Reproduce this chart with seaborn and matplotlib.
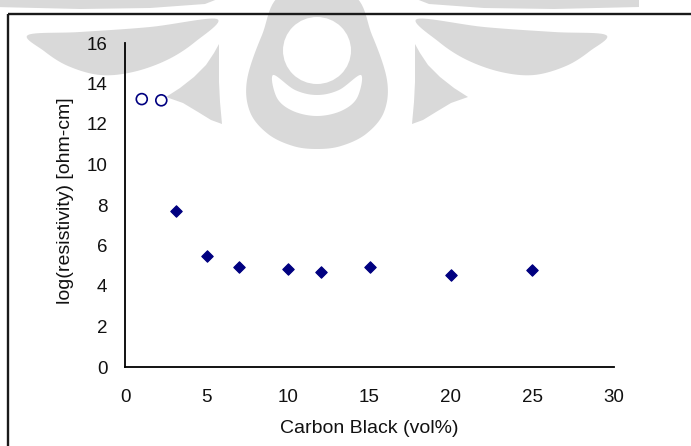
import matplotlib
matplotlib.use("Agg")
import matplotlib.pyplot as plt
from matplotlib.patches import Ellipse, Polygon, Rectangle
import numpy as np
import pandas as pd
import seaborn as sns

# Measured data: carbon black loading vs. log resistivity
cb_open = [1.0, 2.2]            # vol% (open symbols)
rho_open = [13.23, 13.17]       # log(ohm-cm)
cb_filled = [3.1, 5.0, 7.0, 10.0, 12.0, 15.0, 20.0, 25.0]
rho_filled = [7.72, 5.50, 4.95, 4.82, 4.71, 4.95, 4.54, 4.79]

x_ticks = [0, 5, 10, 15, 20, 25, 30]
y_ticks = [0, 2, 4, 6, 8, 10, 12, 14, 16]

df_open = pd.DataFrame({"cb": cb_open, "rho": rho_open})
df_filled = pd.DataFrame({"cb": cb_filled, "rho": rho_filled})

sns.set_style("white")
plt.rcParams["font.family"] = ["Liberation Sans", "DejaVu Sans"]

W, H = 691, 446
fig = plt.figure(figsize=(W / 100, H / 100), dpi=100)
fig.patch.set_facecolor("white")

# Background layer in pixel coordinates (origin at top-left)
bg = fig.add_axes([0, 0, 1, 1], zorder=0)
bg.set_xlim(0, W)
bg.set_ylim(H, 0)
bg.axis("off")

wm = "#d9d9d9"
cx = 317.0  # symmetry axis of the emblem


def mirror(pts):
    return [(2 * cx - x, y) for x, y in pts]


def smooth(pts, closed=True, n=12):
    """Catmull-Rom smoothing of a control polygon."""
    p = np.array(pts, dtype=float)
    if closed:
        p = np.vstack([p[-1], p, p[0], p[1]])
    else:
        p = np.vstack([p[0], p, p[-1]])
    out = []
    for i in range(1, len(p) - 2):
        p0, p1, p2, p3 = p[i - 1], p[i], p[i + 1], p[i + 2]
        for t in np.linspace(0, 1, n, endpoint=False):
            t2, t3 = t * t, t * t * t
            out.append(0.5 * ((2 * p1) + (-p0 + p2) * t +
                              (2 * p0 - 5 * p1 + 4 * p2 - p3) * t2 +
                              (-p0 + 3 * p1 - 3 * p2 + p3) * t3))
    return np.array(out)


# central drop
drop = [(283, -6), (262, 35), (247, 80), (250, 112), (268, 134), (293, 146),
        (317, 149), (341, 146), (366, 134), (384, 112), (387, 80), (372, 35),
        (351, -6)]
bg.add_patch(Polygon(smooth(drop), closed=True, fc=wm, ec="none", zorder=1))
bg.add_patch(Ellipse((cx, 50.5), 68, 67, fc="white", ec="none", zorder=2))
crescent = [(273, 75), (295, 90), (317, 95), (339, 90), (361, 75),
            (357, 98), (341, 111), (317, 116), (293, 111), (277, 98)]
bg.add_patch(Polygon(smooth(crescent), closed=True, fc="white", ec="none", zorder=2))

# side wings and leaves
wing = [(28, 35), (80, 32), (150, 27), (217, 19), (195, 42), (167, 60),
        (133, 72), (100, 75), (68, 66), (44, 51)]
leaf = [(166, 97), (180, 88), (194, 77), (206, 65), (214, 53), (219, 44),
        (219, 62), (219, 82), (220, 102), (222, 124), (211, 120), (198, 112),
        (183, 103)]
strip = [(-5, -5), (228, -5), (205, 4), (150, 8), (80, 9), (-5, 7)]
bg.add_patch(Polygon(smooth(wing), closed=True, fc=wm, ec="none", zorder=1))
bg.add_patch(Polygon(smooth(mirror(wing)), closed=True, fc=wm, ec="none", zorder=1))
bg.add_patch(Polygon(leaf, closed=True, fc=wm, ec="none", zorder=1))
bg.add_patch(Polygon(mirror(leaf), closed=True, fc=wm, ec="none", zorder=1))
bg.add_patch(Polygon(strip, closed=True, fc=wm, ec="none", zorder=1))
bg.add_patch(Polygon(mirror(strip), closed=True, fc=wm, ec="none", zorder=1))

# outer frame
bg.add_patch(Rectangle((8.5, 14), 800, 600, fill=False, ec="#1a1a1a", lw=1.7, zorder=3))

# Main plot
x0, x1 = 125.5, 613.5
y0, y1 = 367.0, 43.0
ax = fig.add_axes([x0 / W, (H - y0) / H, (x1 - x0) / W, (y0 - y1) / H], zorder=1)
ax.set_facecolor("none")

navy = "#000080"
sns.scatterplot(data=df_open, x="cb", y="rho", ax=ax, marker="o", s=62,
                facecolor="none", edgecolor=navy, linewidth=1.2, zorder=5,
                clip_on=False)
sns.scatterplot(data=df_filled, x="cb", y="rho", ax=ax, marker="D", s=34,
                color=navy, edgecolor=navy, linewidth=0.8, zorder=5,
                clip_on=False)

ax.set_xlim(0, 30)
ax.set_ylim(0, 16)
ax.set_xticks(x_ticks)
ax.set_yticks(y_ticks)
ax.set_xticklabels([str(v) for v in x_ticks])
ax.set_yticklabels([str(v) for v in y_ticks])

for side in ("top", "right"):
    ax.spines[side].set_visible(False)
for side in ("left", "bottom"):
    ax.spines[side].set_color("black")
    ax.spines[side].set_linewidth(1.3)

ax.tick_params(axis="both", direction="out", length=5, width=1.3,
               color="black", labelsize=13.5, labelcolor="#111111")
ax.tick_params(axis="x", pad=11)
ax.tick_params(axis="y", pad=8)

ax.set_xlabel("Carbon Black (vol%)", fontsize=14, color="#111111")
ax.set_ylabel("log(resistivity) [ohm-cm]", fontsize=14, color="#111111")
ax.xaxis.set_label_coords(0.5, -0.165)
ax.yaxis.set_label_coords(-0.106, 0.512)

fig.savefig("out.png", dpi=100, facecolor="white")
